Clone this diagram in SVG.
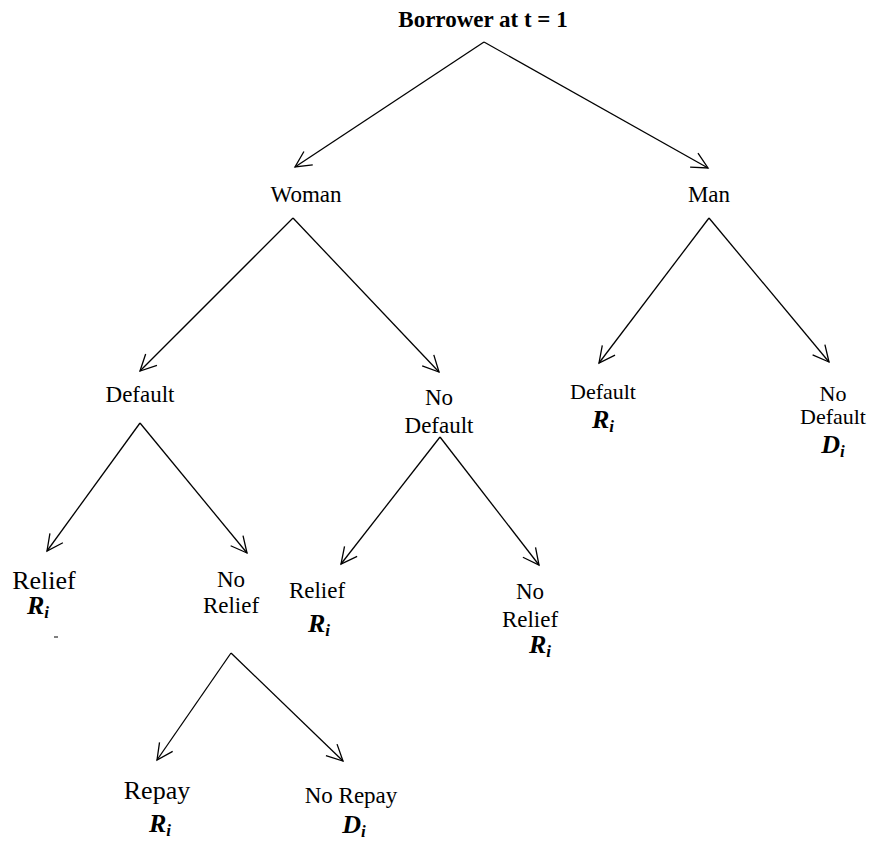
<svg xmlns="http://www.w3.org/2000/svg" width="889" height="842" viewBox="0 0 889 842" font-family="'Liberation Serif', 'DejaVu Serif', serif">
<style>
text{font-family:'Liberation Serif','DejaVu Serif',serif;fill:#000;text-anchor:middle}
.t{font-weight:bold;font-size:23px}
.m{font-size:23px}
.n{font-size:22px}
.b{font-size:26px}
.v{font-weight:bold;font-style:italic;font-size:26px}
.s{font-size:17px}
.c{stroke:#000;stroke-width:1.3;fill:none;marker-end:url(#ah)}
</style>
<defs>
<marker id="ah" markerUnits="userSpaceOnUse" markerWidth="40" markerHeight="40" refX="0" refY="0" viewBox="-20 -20 40 40" orient="auto" overflow="visible">
<path d="M-16,-8 L0,0 L-16,8" fill="none" stroke="#000" stroke-width="1.3"/>
</marker>
</defs>
<rect width="889" height="842" fill="#fff"/>
<g id="connectors">
<line class="c" x1="484" y1="42" x2="295" y2="167"/>
<line class="c" x1="484" y1="42" x2="708" y2="168"/>
<line class="c" x1="293" y1="218" x2="140" y2="371"/>
<line class="c" x1="293" y1="218" x2="439" y2="372"/>
<line class="c" x1="709" y1="218" x2="599" y2="363"/>
<line class="c" x1="709" y1="218" x2="829" y2="362"/>
<line class="c" x1="140" y1="423" x2="47" y2="551"/>
<line class="c" x1="140" y1="423" x2="247" y2="553"/>
<line class="c" x1="440" y1="437" x2="341" y2="564"/>
<line class="c" x1="440" y1="437" x2="539" y2="565"/>
<line class="c" x1="231" y1="653" x2="157" y2="760"/>
<line class="c" x1="231" y1="653" x2="343" y2="761"/>
</g>
<g id="root"><text class="t" x="483" y="27">Borrower at t = 1</text></g>
<g id="woman"><text class="m" x="306" y="202">Woman</text></g>
<g id="man"><text class="m" x="709" y="202">Man</text></g>
<g id="w-default"><text class="m" x="140" y="402">Default</text></g>
<g id="w-nodefault"><text class="m" x="439" y="405">No</text><text class="m" x="439" y="433">Default</text></g>
<g id="m-default"><text class="n" x="603" y="399">Default</text><text class="v" x="603" y="428">R<tspan class="s" dy="4">i</tspan></text></g>
<g id="m-nodefault"><text class="n" x="833" y="401">No</text><text class="n" x="833" y="424">Default</text><text class="v" x="833" y="453">D<tspan class="s" dy="4">i</tspan></text></g>
<g id="d-relief"><text class="b" x="44" y="589">Relief</text><text class="v" x="38" y="614">R<tspan class="s" dy="4">i</tspan></text><line x1="54" y1="637" x2="58" y2="637" stroke="#000" stroke-width="1"/></g>
<g id="d-norelief"><text class="m" x="231" y="587">No</text><text class="m" x="231" y="613">Relief</text></g>
<g id="nd-relief"><text class="m" x="317" y="598">Relief</text><text class="v" x="319" y="632">R<tspan class="s" dy="4">i</tspan></text></g>
<g id="nd-norelief"><text class="m" x="530" y="599">No</text><text class="m" x="530" y="627">Relief</text><text class="v" x="540" y="653">R<tspan class="s" dy="4">i</tspan></text></g>
<g id="repay"><text class="b" x="157" y="799">Repay</text><text class="v" x="160" y="832">R<tspan class="s" dy="4">i</tspan></text></g>
<g id="norepay"><text class="m" x="351" y="803">No Repay</text><text class="v" x="354" y="833">D<tspan class="s" dy="4">i</tspan></text></g>
</svg>
